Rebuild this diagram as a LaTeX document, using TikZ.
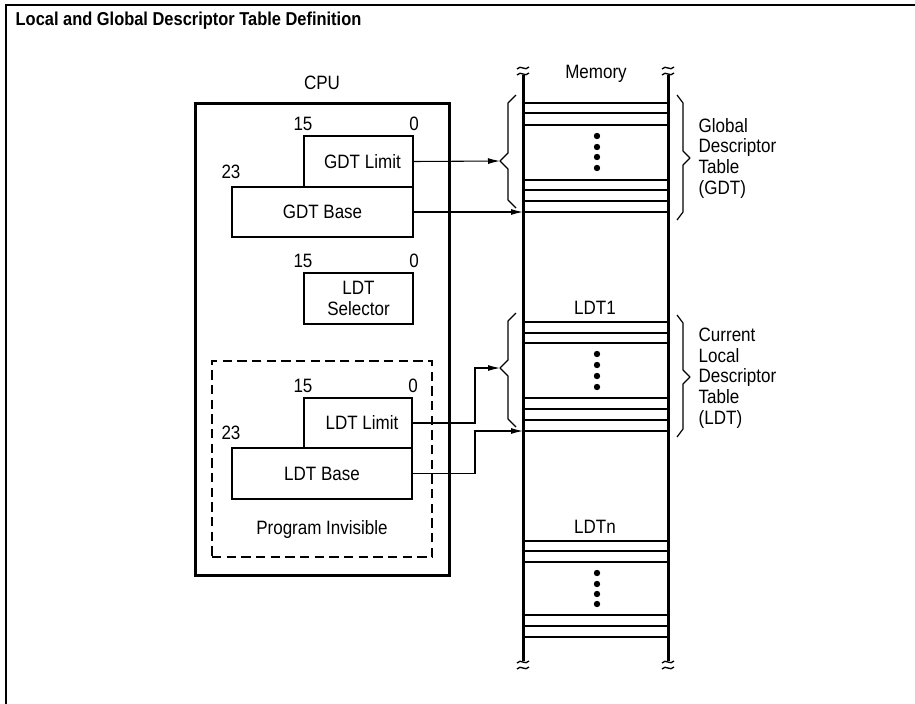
\documentclass[tikz,border=0pt]{standalone}
\usepackage{fontspec}
\setmainfont{Liberation Sans}[FakeStretch=0.88]
\usetikzlibrary{arrows.meta,fit,calc}

\tikzset{
  reg/.style={draw, line width=1.5pt, inner sep=0pt},
  bits/.style={above, inner sep=3pt},
  memline/.style={line width=2.25pt},
  rowline/.style={line width=1.5pt},
  conn/.style={line width=0.8pt},
  tipped/.style={conn, -{Latex[length=9pt,width=4.5pt]}},
  brace/.style={line width=0.9pt, line join=round},
}

\begin{document}
\begin{tikzpicture}[x=0.75pt, y=-0.75pt, font=\fontsize{14.5}{15.5}\selectfont]
  \useasboundingbox (0,0) rectangle (915,704);
  % --- frame and title ---
  \draw[line width=1.5pt] (6,704) -- (6,5) -- (915,5);
  \node[anchor=west, font=\bfseries\fontsize{14}{16}\selectfont] (title) at (11,21)
    {Local and Global Descriptor Table Definition};

  % --- CPU ---
  \node[reg, line width=2.25pt, fit={(195,103) (449,575)}] (cpu) {};
  \node[above=5pt] (cpulabel) at (cpu.north) {CPU};
  \node[reg, fit={(304,136) (413,187)}] (gdtlimit) {};
  \node[reg, fit={(232,187) (413,237)}] (gdtbase) {};
  \node at ([xshift=3]gdtlimit.center) {GDT Limit};
  \node at (gdtbase.center) {GDT Base};
  \node[bits] at (gdtlimit.north west) {15};
  \node[bits] at (gdtlimit.north east) {0};
  \node[bits, inner sep=5pt] at (gdtbase.north west) {23};
  \node[reg, fit={(304,273) (413,324)}] (ldtsel) {};
  \node[align=center] at (ldtsel.center) {LDT\\Selector};
  \node[bits] at (ldtsel.north west) {15};
  \node[bits] at (ldtsel.north east) {0};
  % program invisible part
  \node[draw, dashed, line width=0.9pt, dash pattern=on 7pt off 4pt, inner sep=0pt,
        fit={(212,361) (432,557)}] (invis) {};
  \node (invislabel) at (322,529) {Program Invisible};
  \node[reg, fit={(304,398) (412,448)}] (ldtlimit) {};
  \node[reg, fit={(232,448) (412,499)}] (ldtbase) {};
  \node at ([xshift=3]ldtlimit.center) {LDT Limit};
  \node at (ldtbase.center) {LDT Base};
  \node[bits] at (ldtlimit.north west) {15};
  \node[bits] at (ldtlimit.north east) {0};
  \node[bits, inner sep=5pt] at (ldtbase.north west) {23};

  % --- Memory ---
  \foreach \x in {523,668} {
    \draw[memline] (\x,75) -- (\x,661);
    \foreach \y in {68,74,662,668}
      \draw[line width=1pt] (\x-6,\y+1) .. controls (\x-2,\y-4) and (\x+2,\y+4) .. (\x+6,\y-1);
  }
  \node (memlabel) at (596,74) {Memory};
  \node (ldtonelabel) at (595,308) {LDT1};
  \node (ldtnlabel) at (595,527) {LDTn};
  \foreach \y in {103,113,125,180,190,201,212,
                  322,333,343,398,409,420,431,
                  541,551,562,615,626,637}
    \draw[rowline] (523,\y) -- (668,\y);
  \foreach \y in {136,147,157,168, 354,365,376,387, 573,584,594,604}
    \fill (597,\y) circle (2.4pt);

  % --- braces ---
  \draw[brace] (516,95) -- (508,103) -- (508,153) -- (500,161) -- (508,169)
    -- (508,200) -- (516,208);
  \draw[brace] (516,313) -- (508,321) -- (508,360) -- (500,368) -- (508,376)
    -- (508,419) -- (516,427);
  \draw[brace] (677,95) -- (683,103) -- (683,151) -- (690,158) -- (683,165)
    -- (683,212) -- (677,220);
  \draw[brace] (677,315) -- (683,323) -- (683,370) -- (690,377) -- (683,384)
    -- (683,429) -- (677,437);
  \node[anchor=west, align=left] (gdtname) at (694,158)
    {Global\\Descriptor\\Table\\(GDT)};
  \node[anchor=west, align=left] (ldtname) at (694,378)
    {Current\\Local\\Descriptor\\Table\\(LDT)};

  % --- connectors ---
  \coordinate (gdttip) at (500,161);
  \coordinate (ldttip) at (500,368);
  \coordinate (gdtrow) at (523,212);
  \coordinate (ldtrow) at (523,431);
  \coordinate (ldtjog) at (475,0);
  \draw[tipped] (gdtlimit.east) -- (gdttip);
  \draw[tipped] (gdtbase.east) -- (gdtrow);
  \draw[tipped] (ldtlimit.east) -| (ldtjog |- ldttip) -- (ldttip);
  \draw[tipped] (ldtbase.east) -| (ldtjog |- ldtrow) -- (ldtrow);
\end{tikzpicture}
\end{document}
